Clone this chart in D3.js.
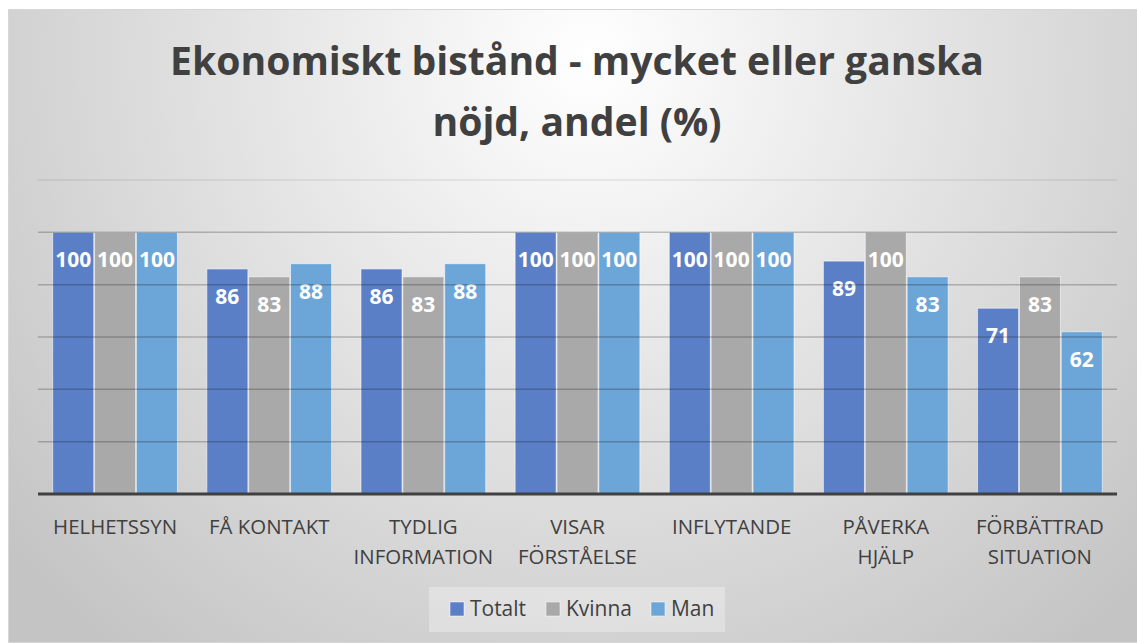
<!DOCTYPE html>
<html>
<head>
<meta charset="utf-8">
<script src="https://cdnjs.cloudflare.com/ajax/libs/d3/7.8.5/d3.min.js"></script>
<style>
  body { margin: 0; background: #fff; }
  svg { display: block; }
  text { font-family: "Open Sans", Lato, sans-serif; }
</style>
</head>
<body>
<svg id="chart" width="1137" height="643"></svg>
<script>
// data
var categories = ["HELHETSSYN", "FÅ KONTAKT", "TYDLIG\nINFORMATION", "VISAR\nFÖRSTÅELSE",
                  "INFLYTANDE", "PÅVERKA\nHJÄLP", "FÖRBÄTTRAD\nSITUATION"];
var seriesNames = ["Totalt", "Kvinna", "Man"];
var totalt = [100, 86, 86, 100, 100, 89, 71];
var kvinna = [100, 83, 83, 100, 100, 100, 83];
var man    = [100, 88, 88, 100, 100, 83, 62];
var yTicks = [0, 20, 40, 60, 80, 100, 120];
var titleLines = ["Ekonomiskt bistånd - mycket eller ganska", "nöjd, andel (%)"];

var seriesValues = [totalt, kvinna, man];
var colors = ["#5a7fc7", "#a9a9a9", "#6ca5d7"];

var svg = d3.select("#chart");
var box = {x: 8, y: 9, w: 1129, h: 633};
var plot = {left: 38, right: 1117, top: 180, bottom: 494};

// background gradient
var defs = svg.append("defs");
var grad = defs.append("radialGradient")
    .attr("id", "bg")
    .attr("gradientUnits", "userSpaceOnUse")
    .attr("cx", 590).attr("cy", 60).attr("r", 760);
grad.append("stop").attr("offset", "0").attr("stop-color", "#ffffff");
grad.append("stop").attr("offset", "0.45").attr("stop-color", "#e4e4e4");
grad.append("stop").attr("offset", "1").attr("stop-color", "#c4c4c4");

svg.append("rect")
    .attr("x", box.x + 0.5).attr("y", box.y + 0.5)
    .attr("width", box.w).attr("height", box.h)
    .attr("fill", "url(#bg)")
    .attr("stroke", "#d6d6d6");

// helper: scale font so that a reference text gets a target width
function fitFont(sel, target) {
    var w = sel.node().getComputedTextLength();
    var fs = parseFloat(sel.attr("font-size"));
    return fs * target / w;
}

// title
var title = svg.append("g");
var t1 = title.append("text").attr("x", 577).attr("y", 75)
    .attr("text-anchor", "middle").attr("font-size", 40).attr("font-weight", "bold")
    .attr("fill", "#404040").text(titleLines[0]);
var titleSize = fitFont(t1, 814);
t1.attr("font-size", titleSize);
title.append("text").attr("x", 577).attr("y", 136)
    .attr("text-anchor", "middle").attr("font-size", titleSize).attr("font-weight", "bold")
    .attr("fill", "#404040").text(titleLines[1]);

// scales
var x0 = d3.scaleBand().domain(categories).range([plot.left, plot.right]).paddingInner(0.18).paddingOuter(0.09);
var x1 = d3.scaleBand().domain(seriesNames).range([0, x0.bandwidth()]).padding(0.02);
var y = d3.scaleLinear().domain([0, 120]).range([plot.bottom, plot.top]);

// bars
var groups = svg.append("g").selectAll("g")
    .data(categories)
    .join("g")
    .attr("transform", d => "translate(" + x0(d) + ",0)");

groups.selectAll("rect")
    .data((d, i) => seriesNames.map((s, j) => ({s: s, v: seriesValues[j][i], j: j})))
    .join("rect")
    .attr("x", d => x1(d.s))
    .attr("y", d => y(d.v))
    .attr("width", x1.bandwidth())
    .attr("height", d => y(0) - y(d.v))
    .attr("fill", d => colors[d.j])
    .attr("stroke", "rgba(255,255,255,0.55)")
    .attr("stroke-width", 1);

// gridlines (drawn over bars, semi transparent)
svg.append("g").selectAll("line")
    .data(yTicks.filter(d => d > 0))
    .join("line")
    .attr("x1", plot.left).attr("x2", plot.right)
    .attr("y1", d => y(d)).attr("y2", d => y(d))
    .attr("stroke", d => d == 120 ? "rgba(0,0,0,0.08)" : "rgba(0,0,0,0.22)")
    .attr("stroke-width", 1.5);

// value labels
groups.selectAll("text.val")
    .data((d, i) => seriesNames.map((s, j) => ({s: s, v: seriesValues[j][i], j: j})))
    .join("text")
    .attr("class", "val")
    .attr("x", d => x1(d.s) + x1.bandwidth() / 2)
    .attr("y", d => y(d.v) + 35)
    .attr("text-anchor", "middle")
    .attr("font-size", 21)
    .attr("font-weight", "bold")
    .attr("fill", "#ffffff")
    .text(d => d.v);

// x axis
var xAxis = svg.append("g")
    .attr("transform", "translate(0," + plot.bottom + ")")
    .call(d3.axisBottom(x0).tickSize(0).tickFormat(""));
xAxis.select(".domain").attr("stroke", "#404040").attr("stroke-width", 3)
    .attr("d", "M" + plot.left + ",0H" + plot.right);

// category labels
var probe = svg.append("text").attr("font-size", 18).text("HELHETSSYN");
var catSize = fitFont(probe, 124);
probe.remove();

svg.append("g").selectAll("text")
    .data(categories)
    .join("text")
    .attr("x", d => x0(d) + x0.bandwidth() / 2)
    .attr("y", 534)
    .attr("text-anchor", "middle")
    .attr("font-size", catSize)
    .attr("fill", "#404040")
    .each(function (d) {
        var lines = d.split("\n");
        var el = d3.select(this);
        lines.forEach((l, i) => {
            el.append("tspan").attr("x", x0(d) + x0.bandwidth() / 2)
              .attr("dy", i == 0 ? 0 : 30).text(l);
        });
    });

// legend
var legend = svg.append("g");
legend.append("rect").attr("x", 429).attr("y", 587).attr("width", 296).attr("height", 45)
    .attr("fill", "rgba(255,255,255,0.3)");
var legX = [450, 546, 651];
var lprobe = svg.append("text").attr("font-size", 18).text("Totalt");
var legSize = fitFont(lprobe, 56);
lprobe.remove();
seriesNames.forEach((s, i) => {
    legend.append("rect").attr("x", legX[i]).attr("y", 602).attr("width", 14).attr("height", 14)
        .attr("fill", colors[i]).attr("stroke", "rgba(255,255,255,0.5)");
    legend.append("text").attr("x", legX[i] + 20).attr("y", 616)
        .attr("font-size", legSize).attr("fill", "#404040").text(s);
});
</script>
</body>
</html>
